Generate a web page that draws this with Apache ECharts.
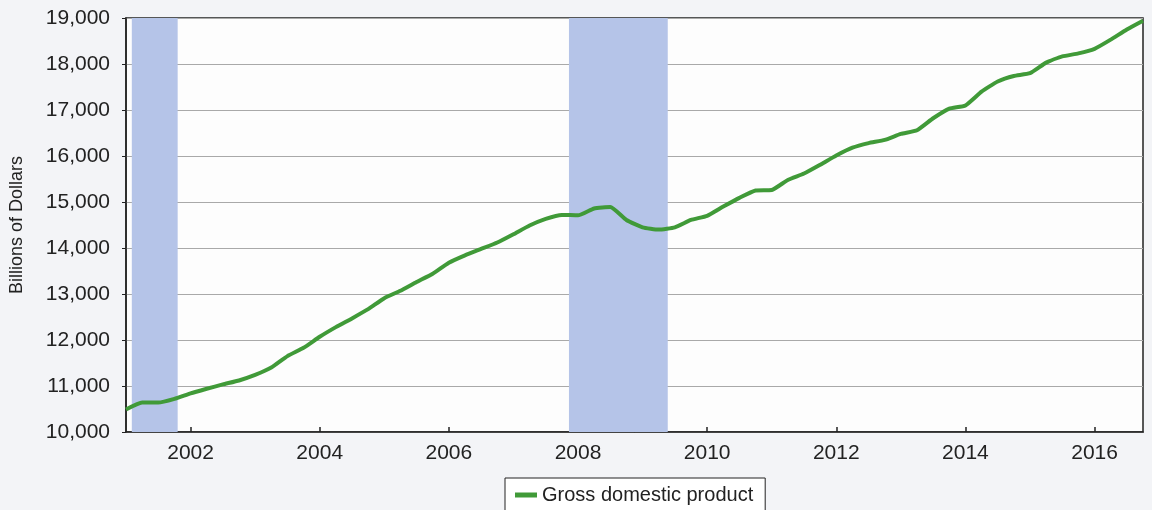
<!DOCTYPE html>
<html>
<head>
<meta charset="utf-8">
<script src="https://cdn.jsdelivr.net/npm/echarts@6/dist/echarts.min.js"></script>
<style>
  html, body { margin: 0; padding: 0; background: #f3f4f7; }
  #chart { width: 1152px; height: 510px; }
</style>
</head>
<body>
<div id="chart"></div>
<script>
// quarterly GDP, billions of dollars, first quarter of 2001 onward
const startYear = 2001;
const gdp = [
  10490, 10640, 10640, 10720,
  10840, 10940, 11035, 11120,
  11240, 11400, 11650, 11830,
  12070, 12280, 12470, 12670,
  12910, 13070, 13260, 13440,
  13680, 13840, 13980, 14120,
  14300, 14490, 14635, 14720,
  14710, 14860, 14890, 14610,
  14450, 14400, 14450, 14610,
  14700, 14900, 15090, 15250,
  15260, 15480, 15620, 15810,
  16010, 16180, 16280, 16350,
  16480, 16560, 16820, 17030,
  17100, 17400, 17620, 17740,
  17800, 18030, 18165, 18230,
  18330, 18530, 18750, 18940
];
const yearTicks = [2002, 2004, 2006, 2008, 2010, 2012, 2014, 2016];
const recessions = [[2001.09, 2001.8], [2007.86, 2009.39]];

const points = gdp.map((v, i) => [startYear + i / 4, v]);

const chart = echarts.init(document.getElementById('chart'));
chart.setOption({
  animation: false,
  textStyle: { fontFamily: 'Liberation Sans, Arial, sans-serif', color: '#222' },
  grid: {
    left: 126, right: 9, top: 18, bottom: 78,
    show: true, backgroundColor: '#fdfdfd',
    borderColor: '#222', borderWidth: 1.5
  },
  legend: {
    left: 505, top: 478,
    data: ['Gross domestic product'],
    icon: 'rect', itemWidth: 22, itemHeight: 5, itemGap: 10,
    padding: [7, 12, 16, 10],
    backgroundColor: '#fff',
    borderColor: '#222', borderWidth: 1, borderRadius: 0,
    textStyle: { fontSize: 20, color: '#222' }
  },
  xAxis: {
    type: 'value',
    min: 2001, max: 2016.75,
    axisLine: { lineStyle: { color: '#222', width: 1.5 } },
    axisTick: {
      inside: true, length: 5, customValues: yearTicks,
      lineStyle: { color: '#222', width: 1.5 }
    },
    axisLabel: {
      customValues: yearTicks, margin: 11, fontSize: 21, color: '#222',
      formatter: v => String(v)
    },
    splitLine: { show: false }
  },
  yAxis: {
    type: 'value',
    min: 10000, max: 19000, interval: 1000,
    name: 'Billions of Dollars',
    nameLocation: 'middle', nameGap: 100,
    nameTextStyle: { fontSize: 18, color: '#222' },
    axisLine: { show: true, lineStyle: { color: '#222', width: 1.5 } },
    axisTick: { show: true, length: 4, lineStyle: { color: '#222' } },
    axisLabel: { fontSize: 21, margin: 16, color: '#222' },
    splitLine: { lineStyle: { color: '#a9a9a9', width: 1 } }
  },
  series: [{
    name: 'Gross domestic product',
    type: 'line',
    data: points,
    showSymbol: false,
    smooth: 0.15,
    color: '#409a38',
    lineStyle: { width: 4, color: '#409a38', join: 'round' },
    markArea: {
      silent: true,
      itemStyle: { color: '#b5c4e8', opacity: 1 },
      data: recessions.map(r => [{ xAxis: r[0] }, { xAxis: r[1] }])
    }
  }]
});
</script>
</body>
</html>
